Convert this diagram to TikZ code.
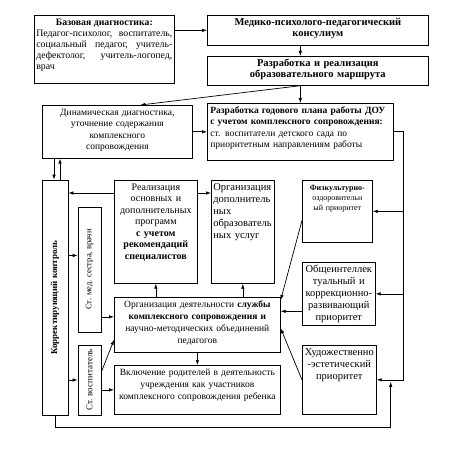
\documentclass[tikz,border=0pt]{standalone}
\usepackage{fontspec}
\setmainfont{Liberation Serif}
\usepackage{graphicx}
\usetikzlibrary{arrows.meta}

\begin{document}
\begin{tikzpicture}[x=1pt,y=-1pt,->,>={Latex[length=5pt,width=3.5pt]},line width=0.7pt,
  box/.style={draw,rectangle,anchor=north west,inner sep=2pt,text height=8pt,align=center,font=\fontsize{9.5}{11.5}\selectfont},
  side box/.style={draw,rectangle,inner sep=0pt,font=\fontsize{9}{11}\selectfont}]

  \useasboundingbox (0,0) rectangle (458,449);

  \node[box,text width=136pt,text depth=56pt,align=justify,font=\fontsize{9.8}{11}\selectfont] (base) at (34,15)
    {\hfill\textbf{Базовая диагностика:}\hfill\mbox{}\\ Педагог-психолог,~воспитатель,\linebreak социальный~педагог,~учитель-\linebreak дефектолог,~учитель-логопед,\linebreak врач};
  \node[box,text width=217pt,text depth=18pt,font=\bfseries\fontsize{10.5}{11.5}\selectfont] (mpk) at (207,15)
    {Медико-психолого-педагогический\\консулиум};
  \node[box,text width=217pt,text depth=17pt,font=\bfseries\fontsize{10.5}{11.5}\selectfont] (route) at (207,56)
    {Разработка и реализация\\образовательного маршрута};
  \node[box,text width=146pt,text depth=41pt] (dyn) at (42,105)
    {Динамическая диагностика,\\уточнение содержания\\комплексного\\сопровождения};
  \node[box,text width=180pt,text depth=45pt,align=left,inner xsep=3pt] (plan) at (207,103)
    {\textbf{Разработка годового плана работы ДОУ}\\\textbf{с учетом комплексного сопровождения:}\\ст. воспитатели детского сада по\\приоритетным направлениям работы};

  \node[side box,minimum width=26pt,minimum height=235pt,font=\bfseries\fontsize{9}{11}\selectfont] (kk) at (55,297.5)
    {\rotatebox{90}{Корректирующий контроль}};
  \node[side box,minimum width=23pt,minimum height=125pt,font=\fontsize{8.5}{10}\selectfont] (med) at (89.5,269.5)
    {\rotatebox{90}{Ст. мед. сестра, врачи}};
  \node[side box,minimum width=23pt,minimum height=70pt] (voc) at (89.5,380)
    {\rotatebox{90}{Ст. воспитатель}};

  \node[box,text width=79pt,text depth=91pt,font=\fontsize{10}{11.5}\selectfont] (real) at (114,180)
    {Реализация\\основных и\\дополнительных\\программ\\\textbf{с учетом}\\\textbf{рекомендаций}\\\textbf{специалистов}};
  \node[box,text width=59pt,text depth=91pt,align=left,font=\fontsize{10.5}{12}\selectfont] (dop) at (211,180)
    {Организация\\дополнитель\\ных\\образователь\\ных услуг};
  \node[box,text width=66pt,text depth=50pt,font=\fontsize{8}{10}\selectfont] (fiz) at (302,180)
    {\textbf{Физкультурно-}\\оздоровительн\\ый приоритет};
  \node[box,text width=69pt,text depth=51pt,font=\fontsize{10.5}{12}\selectfont] (obsh) at (302,262)
    {Общеинтеллек\\туальный и\\коррекционно-\\развивающий\\приоритет};
  \node[box,text width=70pt,text depth=57pt,font=\fontsize{10.5}{12}\selectfont] (hud) at (302,345)
    {Художественно\\-эстетический\\приоритет};
  \node[box,text width=162pt,text depth=43pt,font=\fontsize{9.5}{12}\selectfont] (org) at (114,297)
    {Организация деятельности \textbf{службы}\\\textbf{комплексного сопровождения и}\\научно-методических объединений\\педагогов};
  \node[box,text width=162pt,text depth=37pt,font=\fontsize{9.5}{12}\selectfont] (incl) at (114,365)
    {Включение родителей в деятельность\\учреждения как участников\\комплексного сопровождения ребенка};

  % top part
  \draw (base.east |- mpk.west) -- (mpk.west);
  \draw (mpk.south -| plan.north) -- (route.north -| plan.north);
  \draw (route.south -| plan.north) -- (plan.north);
  \draw (route.south -| plan.north) -- ([xshift=23pt]dyn.north);
  \draw (dyn.east) -- (plan.west);
  \draw ([xshift=-1pt]kk.north |- dyn.south) -- ([xshift=-1pt]kk.north);
  \draw ([xshift=5pt]kk.north) -- ([xshift=5pt]kk.north |- dyn.south);

  % left part
  \coordinate (r1) at ([yshift=-13pt]real.north west);
  \coordinate (r2) at ([yshift=-13pt]real.north east);
  \coordinate (m1) at ([yshift=14pt]med.west);
  \coordinate (o1) at ([yshift=8pt]org.west);
  \draw (r1) -- (r1 -| kk.east);
  \draw (r2) -- (r2 -| dop.west);
  \draw (kk.east |- m1) -- (m1);
  \draw (kk.east |- voc.west) -- (voc.west);
  \draw (med.east |- o1) -- (o1);
  \draw ([yshift=8pt]voc.east) -- ([yshift=-15pt]org.west);
  \draw (voc.east |- incl.west) -- (incl.west);
  \draw (org.north -| real.south) -- (real.south);
  \draw (org.north -| dop.south) -- (dop.south);
  \draw (org.south) -- (incl.north);

  % right part
  \coordinate (rtop) at ([xshift=10pt]plan.east);
  \coordinate (o2) at ([yshift=13.5pt]org.east);
  \draw (plan.east) -- (rtop) |- (hud.east);
  \draw (rtop |- fiz.east) -- (fiz.east);
  \draw (rtop |- obsh.east) -- (obsh.east);
  \draw ([yshift=-9pt]fiz.west) -- ([yshift=-3pt]org.north east);
  \draw (obsh.west |- o2) -- (o2);
  \draw (hud.west) -- ([yshift=-3.5pt]org.east);
  \draw (kk.south) -- ++(0,12) -| ([xshift=14pt,yshift=-2pt]hud.east);
\end{tikzpicture}
\end{document}
